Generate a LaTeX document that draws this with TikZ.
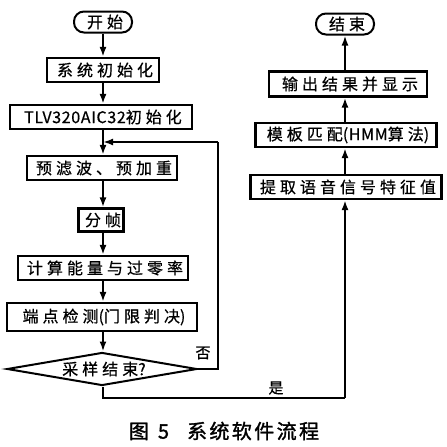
\documentclass[tikz,border=0pt]{standalone}
\usepackage{fontspec}
\usetikzlibrary{arrows.meta,shapes.geometric}
\newfontfamily\cjk[LetterSpace=25,FakeBold=0.6]{Noto Sans CJK SC}
\newfontfamily\latn[LetterSpace=4,FakeBold=0.6]{Noto Sans CJK SC}
\newfontfamily\cjkcap[FakeBold=1.5,LetterSpace=12]{Noto Sans CJK SC}
\tikzset{
  txt/.style={execute at begin node=\hspace{4pt}},
  box/.style={txt,draw,line width=2.2pt,rectangle,inner sep=0pt,minimum height=24pt,font=\cjk\fontsize{16}{16}\selectfont},
  term/.style={txt,draw,line width=2pt,rectangle,rounded corners=10pt,inner sep=0pt,minimum height=21pt,font=\cjk\fontsize{16}{16}\selectfont},
  decide/.style={txt,draw,line width=2pt,diamond,aspect=5.8,inner sep=0pt,minimum width=190pt,minimum height=33pt,font=\cjk\fontsize{16}{16}\selectfont},
  conn/.style={line width=2pt,-{Latex[length=10pt,width=7pt]}},
  plain/.style={line width=2pt},
  lbl/.style={font=\cjk\fontsize{15}{15}\selectfont,inner sep=0pt}
}
\begin{document}
\begin{tikzpicture}[x=1pt,y=-1pt]
\useasboundingbox[fill=white] (0,0) rectangle (447,447);
% left column
\node[term,minimum width=58pt] (start) at (103,22) {开始};
\node[box,minimum width=112pt] (init) at (103,70) {系统初始化};
\node[box,minimum width=182pt] (tlv) at (101,117) {{\latn TLV320AIC32}初始化};
\node[box,minimum width=150pt] (pre) at (102,168) {预滤波、预加重};
\node[box,minimum width=45pt,minimum height=23pt] (frame) at (101,220) {分帧};
\node[box,minimum width=170pt] (energy) at (103,268) {计算能量与过零率};
\node[box,minimum width=190pt,minimum height=28pt] (ep) at (102,317) {端点检测{\latn(}门限判决{\latn)}};
\node[decide] (dec) at (102,369) {采样结束{\latn?}};
% right column
\node[term,minimum width=58pt] (end) at (345,24) {结束};
\node[box,minimum width=158pt,minimum height=25pt] (out) at (348,84) {输出结果并显示};
\node[box,minimum width=181pt] (hmm) at (346,135) {模板匹配{\latn(HMM}算法{\latn)}};
\node[box,minimum width=191pt] (feat) at (346,187) {提取语音信号特征值};
% coordinates
\coordinate (join) at (103,142);
\coordinate (rtop) at (218,142);
\coordinate (rbot) at (218,369);
\coordinate (bl) at (103,398);
\coordinate (br) at (345,398);
% connectors
\draw[conn] (start.south -| init.north) -- (init.north);
\draw[conn] (init.south) -- (init.south |- tlv.north);
\draw[conn] (tlv.south -| init.south) -- (init.south |- pre.north);
\draw[conn] (pre.south -| init.south) -- (init.south |- frame.north);
\draw[conn] (frame.south -| init.south) -- (init.south |- energy.north);
\draw[conn] (energy.south) -- (energy.south |- ep.north);
\draw[conn] (ep.south -| energy.south) -- (energy.south |- dec.north);
\draw[plain] (dec.east) -- (rbot) -- (rtop);
\draw[conn] (rtop) -- (join);
\draw[plain] (dec.south -| join) -- (bl) -- (br);
\draw[conn] (br) -- (feat.south -| br);
\draw[conn] (feat.north -| br) -- (hmm.south -| br);
\draw[conn] (hmm.north -| br) -- (out.south -| br);
\draw[conn] (out.north -| br) -- (end.south);
% labels
\node[lbl] (no) at (203,353) {否};
\node[lbl] (yes) at (276,388) {是};
\node[font=\cjkcap\fontsize{20}{20}\selectfont,inner sep=0pt] (cap) at (224,431) {图\hspace{9pt}5\hspace{18pt}系统软件流程};
\end{tikzpicture}
\end{document}
